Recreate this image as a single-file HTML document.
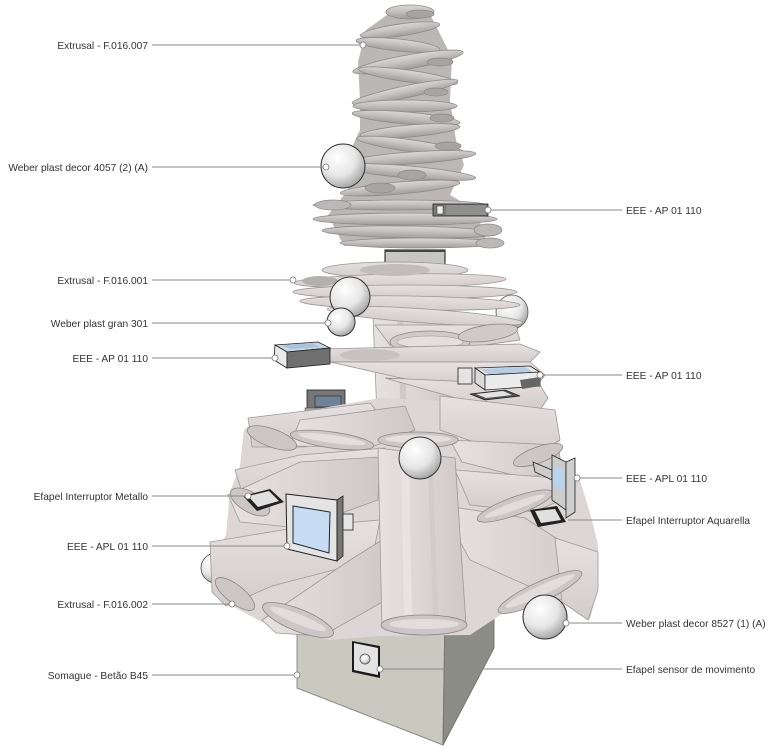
<!DOCTYPE html>
<html><head><meta charset="utf-8"><style>
html,body{margin:0;padding:0;background:#fff;}
svg{display:block;}
text{font-family:"Liberation Sans",sans-serif;font-size:10.2px;fill:#333;}
</style></head><body>
<svg width="774" height="755" viewBox="0 0 774 755" xmlns="http://www.w3.org/2000/svg">
<defs>
<radialGradient id="sph" cx="0.38" cy="0.32" r="0.75">
<stop offset="0" stop-color="#ffffff"/><stop offset="0.55" stop-color="#e6e6e6"/><stop offset="1" stop-color="#9a9a9a"/>
</radialGradient>
<linearGradient id="tb" x1="0" y1="0" x2="0" y2="1">
<stop offset="0" stop-color="#dcd8d8"/><stop offset="0.45" stop-color="#c6c1c1"/><stop offset="1" stop-color="#a29d9d"/>
</linearGradient>
<linearGradient id="lb" x1="0" y1="0" x2="1" y2="0">
<stop offset="0" stop-color="#e7e1e1"/><stop offset="0.5" stop-color="#dcd5d5"/><stop offset="1" stop-color="#cfc8c8"/>
</linearGradient>
<linearGradient id="lb2" x1="0" y1="0" x2="0" y2="1">
<stop offset="0" stop-color="#e6e0e0"/><stop offset="1" stop-color="#d3cccc"/>
</linearGradient>
</defs>

<!-- ===== BASE BOX ===== -->
<polygon points="297,585 445,615 443,745 297,688" fill="#c9c9bf" stroke="#8d8d85" stroke-width="1"/>
<polygon points="445,615 494,585 494,648 443,745" fill="#8c8c86" stroke="#77776f" stroke-width="1"/>
<polygon points="352,641 380,646 380,678 352,672" fill="#1a1a1a"/>
<polygon points="354,643 378,648 378,675 354,670" fill="#e3e3e3"/>
<circle cx="365" cy="659" r="5" fill="url(#sph)" stroke="#555" stroke-width="0.8"/>

<!-- ===== TOP SECTION ===== -->
<polygon points="394,10 428,10 438,30 452,58 450,100 456,140 464,165 450,195 476,210 486,240 344,246 328,215 348,190 346,160 360,130 360,100 358,62 366,30" fill="#bcb7b7"/>
<g stroke="#8f8a8a" stroke-width="0.8" fill="url(#tb)">
<ellipse cx="410" cy="12" rx="24" ry="7"/>
<ellipse cx="400" cy="30" rx="40" ry="6" transform="rotate(-8 400 30)"/>
<ellipse cx="398" cy="45" rx="42" ry="6" transform="rotate(6 398 45)"/>
<ellipse cx="408" cy="62" rx="56" ry="7" transform="rotate(-10 408 62)"/>
<ellipse cx="408" cy="76" rx="50" ry="6" transform="rotate(8 408 76)"/>
<ellipse cx="405" cy="92" rx="54" ry="6" transform="rotate(-12 405 92)"/>
<ellipse cx="405" cy="106" rx="52" ry="6"/>
<ellipse cx="406" cy="118" rx="54" ry="6" transform="rotate(5 406 118)"/>
<ellipse cx="410" cy="131" rx="50" ry="6" transform="rotate(-5 410 131)"/>
<ellipse cx="412" cy="146" rx="56" ry="6" transform="rotate(8 412 146)"/>
<ellipse cx="412" cy="158" rx="64" ry="6" transform="rotate(-4 412 158)"/>
<ellipse cx="408" cy="172" rx="68" ry="6" transform="rotate(5 408 172)"/>
<ellipse cx="400" cy="188" rx="60" ry="6" transform="rotate(-5 400 188)"/>
</g>
<g fill="#a9a4a4" stroke="#888" stroke-width="0.7">
<ellipse cx="420" cy="14" rx="14" ry="4"/>
<ellipse cx="440" cy="62" rx="13" ry="4"/>
<ellipse cx="436" cy="92" rx="12" ry="4"/>
<ellipse cx="442" cy="118" rx="12" ry="4"/>
<ellipse cx="448" cy="146" rx="13" ry="4"/>
<ellipse cx="380" cy="188" rx="15" ry="5"/>
<ellipse cx="412" cy="175" rx="14" ry="5"/>
</g>
<circle cx="343" cy="166" r="22" fill="url(#sph)" stroke="#333" stroke-width="1"/>
<g stroke="#8f8a8a" stroke-width="0.8" fill="url(#tb)">
<ellipse cx="400" cy="205" rx="87" ry="5"/>
<ellipse cx="405" cy="219" rx="92" ry="6"/>
<ellipse cx="410" cy="232" rx="88" ry="6" transform="rotate(1 410 232)"/>
<ellipse cx="420" cy="243" rx="80" ry="5"/>
</g>
<g fill="#bdb8b8" stroke="#888" stroke-width="0.7">
<ellipse cx="333" cy="205" rx="18" ry="5"/>
<ellipse cx="488" cy="230" rx="14" ry="6"/>
<ellipse cx="490" cy="243" rx="14" ry="5"/>
</g>
<rect x="433" y="204" width="55" height="12" fill="#7a7a7a" stroke="#222" stroke-width="0.8"/>
<rect x="446" y="205" width="40" height="10" fill="#8f8f8f"/>
<rect x="437" y="206" width="6" height="8" fill="#eee" stroke="#333" stroke-width="0.5"/>
<rect x="385" y="250" width="60" height="15" fill="#c6c6c6" stroke="#111" stroke-width="1"/>
<line x1="385" y1="251" x2="445" y2="251" stroke="#444" stroke-width="2"/>

<!-- ===== MIDDLE SECTION ===== -->
<ellipse cx="512" cy="312" rx="16" ry="17" fill="url(#sph)" stroke="#555" stroke-width="0.8"/>
<g stroke="#9a9494" stroke-width="0.8" fill="url(#lb2)">
<ellipse cx="395" cy="270" rx="73" ry="8"/>
<ellipse cx="400" cy="281" rx="106" ry="7" transform="rotate(-1 400 281)"/>
<ellipse cx="405" cy="292" rx="112" ry="7"/>
<ellipse cx="410" cy="303" rx="110" ry="7" transform="rotate(1 410 303)"/>
</g>
<ellipse cx="395" cy="270" rx="35" ry="6" fill="#c2bcbc"/>
<ellipse cx="320" cy="281" rx="18" ry="5" fill="#b5b0b0"/>
<polygon points="373,315 445,312 458,440 378,442" fill="url(#lb)" stroke="#a09a9a" stroke-width="0.8"/>
<line x1="400" y1="318" x2="405" y2="440" stroke="#cfc9c9" stroke-width="6"/>
<g stroke="#9a9494" stroke-width="0.8" fill="url(#lb2)">
<ellipse cx="425" cy="316" rx="98" ry="7" transform="rotate(4 425 316)"/>
<polygon points="375,325 515,325 520,340 450,350 390,345"/>
</g>
<ellipse cx="430" cy="342" rx="40" ry="11" fill="#cfc9c9" stroke="#8d8787" stroke-width="0.8"/>
<ellipse cx="430" cy="342" rx="33" ry="6" fill="#e4dede" stroke="#999" stroke-width="0.6"/>
<ellipse cx="488" cy="333" rx="30" ry="8" fill="#cfc9c9" stroke="#8d8787" stroke-width="0.8" transform="rotate(-8 488 333)"/>
<circle cx="350" cy="297" r="20" fill="url(#sph)" stroke="#333" stroke-width="1"/>
<circle cx="341" cy="322" r="14" fill="url(#sph)" stroke="#333" stroke-width="1"/>
<g stroke="#9a9494" stroke-width="0.8" fill="url(#lb2)">
<polygon points="285,350 520,344 540,352 530,362 330,362"/>
<polygon points="330,362 530,362 545,375 535,388 410,380"/>
<polygon points="385,378 540,385 548,398 540,410 470,402"/>
</g>
<ellipse cx="370" cy="355" rx="30" ry="6" fill="#c7c1c1"/>
<polygon points="275,345 318,342 330,348 287,352" fill="#c9d6e3" stroke="#222" stroke-width="0.8"/>
<polygon points="275,345 287,352 287,368 274,360" fill="#eaeaea" stroke="#222" stroke-width="0.8"/>
<polygon points="287,352 330,348 330,364 287,368" fill="#6f6f6f" stroke="#222" stroke-width="0.8"/>
<polygon points="282,345 312,343 320,347 290,349" fill="#a7c3dd"/>
<rect x="458" y="368" width="14" height="16" fill="#e3e3e3" stroke="#222" stroke-width="0.8"/>
<polygon points="475,368 530,366 540,372 485,375" fill="#e8e8e8" stroke="#222" stroke-width="0.8"/>
<polygon points="480,369 525,367 533,372 488,374" fill="#b4cde3"/>
<polygon points="475,368 485,375 485,390 475,383" fill="#dadada" stroke="#222" stroke-width="0.8"/>
<polygon points="485,375 540,372 540,386 485,390" fill="#ececec" stroke="#222" stroke-width="0.8"/>
<polygon points="520,380 540,377 540,386 522,389" fill="#666"/>
<rect x="307" y="390" width="38" height="20" fill="#777" stroke="#222" stroke-width="0.8"/>
<rect x="315" y="396" width="26" height="11" fill="#6f8296" stroke="#222" stroke-width="0.6"/>
<rect x="305" y="408" width="45" height="4" fill="#aaa" stroke="#333" stroke-width="0.5"/>
<polygon points="470,394 505,390 520,396 485,400" fill="#555" stroke="#222" stroke-width="0.8"/>
<polygon points="476,394 503,391 512,395 486,398" fill="#e2e2e2"/>

<!-- ===== LOWER SECTION ===== -->
<polygon points="300,412 380,398 460,402 555,410 560,440 555,470 580,480 592,520 598,545 598,585 590,620 570,600 520,602 470,635 380,636 330,640 262,622 232,606 208,580 214,555 226,535 230,492 240,466 244,430 260,416" fill="#ddd6d6"/>
<g stroke="#9f9898" stroke-width="0.8">
<polygon points="248,418 370,403 388,425 305,447 252,447" fill="url(#lb2)"/>
<polygon points="300,420 405,406 415,430 372,447 290,446" fill="url(#lb)"/>
<polygon points="440,396 555,410 560,440 525,460 440,430" fill="url(#lb2)"/>
<polygon points="450,440 558,445 562,470 525,478 462,462" fill="url(#lb)"/>
</g>
<g fill="#ccc6c6" stroke="#8a8484" stroke-width="0.8">
<ellipse cx="272" cy="438" rx="26" ry="9" transform="rotate(20 272 438)"/>
<ellipse cx="332" cy="440" rx="42" ry="8" transform="rotate(8 332 440)"/>
<ellipse cx="418" cy="440" rx="40" ry="8"/>
<ellipse cx="538" cy="455" rx="26" ry="8" transform="rotate(-20 538 455)"/>
</g>
<g fill="#e4dede" stroke="none">
<ellipse cx="332" cy="439" rx="34" ry="4" transform="rotate(8 332 439)"/>
<ellipse cx="418" cy="439" rx="33" ry="4"/>
</g>
<g stroke="#9f9898" stroke-width="0.8">
<polygon points="235,470 300,455 385,448 388,470 300,505 246,505" fill="url(#lb2)"/>
<polygon points="228,495 300,462 380,457 378,500 300,528 240,522" fill="url(#lb)"/>
</g>
<ellipse cx="250" cy="502" rx="22" ry="10" transform="rotate(30 250 502)" fill="#ccc6c6" stroke="#8a8484" stroke-width="0.8"/>
<g stroke="#9f9898" stroke-width="0.8">
<polygon points="455,470 555,478 560,500 535,512 470,505" fill="url(#lb2)"/>
<polygon points="440,505 525,518 590,560 598,585 560,600 470,560" fill="url(#lb)"/>
<polygon points="555,538 598,552 598,590 588,620 562,602" fill="url(#lb2)"/>
</g>
<ellipse cx="515" cy="506" rx="40" ry="9" transform="rotate(-20 515 506)" fill="#ccc6c6" stroke="#8a8484" stroke-width="0.8"/>
<ellipse cx="515" cy="506" rx="32" ry="4" transform="rotate(-20 515 506)" fill="#e2dcdc"/>
<circle cx="216" cy="568" r="15" fill="url(#sph)" stroke="#444" stroke-width="0.8"/>
<g stroke="#9f9898" stroke-width="0.8">
<polygon points="210,542 300,527 380,520 372,560 272,586 226,606 212,592" fill="url(#lb2)"/>
<polygon points="262,620 350,560 382,540 386,600 322,636 276,633" fill="url(#lb)"/>
</g>
<g fill="#ccc6c6" stroke="#8a8484" stroke-width="0.8">
<ellipse cx="235" cy="594" rx="24" ry="9" transform="rotate(38 235 594)"/>
<ellipse cx="298" cy="620" rx="38" ry="11" transform="rotate(22 298 620)"/>
</g>
<ellipse cx="298" cy="619" rx="30" ry="5" transform="rotate(22 298 619)" fill="#e2dcdc"/>
<polygon points="378,448 455,458 466,625 382,628" fill="url(#lb)" stroke="#9f9898" stroke-width="0.8"/>
<line x1="405" y1="455" x2="408" y2="625" stroke="#e8e2e2" stroke-width="8"/>
<line x1="430" y1="458" x2="436" y2="625" stroke="#d2cbcb" stroke-width="5"/>
<ellipse cx="424" cy="625" rx="43" ry="10" fill="#ccc6c6" stroke="#8a8484" stroke-width="0.8"/>
<ellipse cx="424" cy="624" rx="35" ry="5" fill="#e2dcdc"/>
<ellipse cx="540" cy="592" rx="46" ry="10" transform="rotate(-25 540 592)" fill="#ccc6c6" stroke="#8a8484" stroke-width="0.8"/>
<ellipse cx="540" cy="591" rx="38" ry="5" transform="rotate(-25 540 591)" fill="#e2dcdc"/>
<circle cx="420" cy="458" r="21" fill="url(#sph)" stroke="#333" stroke-width="1"/>
<circle cx="545" cy="617" r="22" fill="url(#sph)" stroke="#333" stroke-width="1"/>
<polygon points="243,496 270,489 284,502 257,511" fill="#222"/>
<polygon points="248,496 269,491 279,501 258,507" fill="#e0e0e0"/>
<polygon points="337,500 343,496 343,556 337,561" fill="#777" stroke="#222" stroke-width="0.8"/>
<polygon points="286,494 337,500 337,561 287,549" fill="#e4e4e4" stroke="#222" stroke-width="1"/>
<polygon points="293,506 330,512 329,553 293,543" fill="#c5dcf2" stroke="#222" stroke-width="1"/>
<rect x="343" y="514" width="10" height="16" fill="#e6e6e6" stroke="#222" stroke-width="0.8"/>
<polygon points="533,462 552,470 552,480 535,472" fill="#ccc" stroke="#222" stroke-width="0.8"/>
<polygon points="552,455 566,462 566,510 552,500" fill="#ccc" stroke="#222" stroke-width="0.8"/>
<polygon points="554,466 563,470 563,490 554,486" fill="#b8d4ee"/>
<polygon points="566,462 575,458 575,512 566,518" fill="#cfcfcf" stroke="#222" stroke-width="0.8"/>
<polygon points="530,510 557,506 566,522 538,527" fill="#222"/>
<polygon points="535,511 555,509 561,520 541,523" fill="#e0e0e0"/>

<!-- ===== LEADERS ===== -->
<g stroke="#8a8a8a" stroke-width="1" fill="none">
<line x1="152" y1="45" x2="360" y2="45"/>
<line x1="152" y1="167" x2="323" y2="167"/>
<line x1="152" y1="280" x2="290" y2="280"/>
<line x1="152" y1="323" x2="325" y2="323"/>
<line x1="152" y1="358" x2="272" y2="358"/>
<line x1="152" y1="496" x2="245" y2="496"/>
<line x1="152" y1="546" x2="284" y2="546"/>
<line x1="152" y1="604" x2="229" y2="604"/>
<line x1="152" y1="675" x2="294" y2="675"/>
<line x1="491" y1="210" x2="622" y2="210"/>
<line x1="543" y1="375" x2="622" y2="375"/>
<line x1="580" y1="478" x2="622" y2="478"/>
<line x1="568" y1="520" x2="622" y2="520"/>
<line x1="569" y1="623" x2="622" y2="623"/>
<line x1="383" y1="669" x2="622" y2="669"/>
</g>
<g stroke="#777" stroke-width="0.8" fill="#fff">
<circle cx="363" cy="45" r="3"/>
<circle cx="326" cy="167" r="3"/>
<circle cx="293" cy="280" r="3"/>
<circle cx="328" cy="323" r="3"/>
<circle cx="275" cy="358" r="3"/>
<circle cx="248" cy="496" r="3"/>
<circle cx="287" cy="546" r="3"/>
<circle cx="232" cy="604" r="3"/>
<circle cx="297" cy="675" r="3"/>
<circle cx="488" cy="210" r="3"/>
<circle cx="540" cy="375" r="3"/>
<circle cx="577" cy="478" r="3"/>
<circle cx="566" cy="623" r="3"/>
<circle cx="380" cy="669" r="3"/>
</g>

<!-- ===== LABELS ===== -->
<g text-anchor="end">
<text x="148" y="49">Extrusal - F.016.007</text>
<text x="148" y="171">Weber plast decor 4057 (2) (A)</text>
<text x="148" y="284">Extrusal - F.016.001</text>
<text x="148" y="327">Weber plast gran 301</text>
<text x="148" y="362">EEE - AP 01 110</text>
<text x="148" y="500">Efapel Interruptor Metallo</text>
<text x="148" y="550">EEE - APL 01 110</text>
<text x="148" y="608">Extrusal - F.016.002</text>
<text x="148" y="679">Somague - Betão B45</text>
</g>
<g>
<text x="626" y="214">EEE - AP 01 110</text>
<text x="626" y="379">EEE - AP 01 110</text>
<text x="626" y="482">EEE - APL 01 110</text>
<text x="626" y="524">Efapel Interruptor Aquarella</text>
<text x="626" y="627">Weber plast decor 8527 (1) (A)</text>
<text x="626" y="673">Efapel sensor de movimento</text>
</g>
</svg>
</body></html>
